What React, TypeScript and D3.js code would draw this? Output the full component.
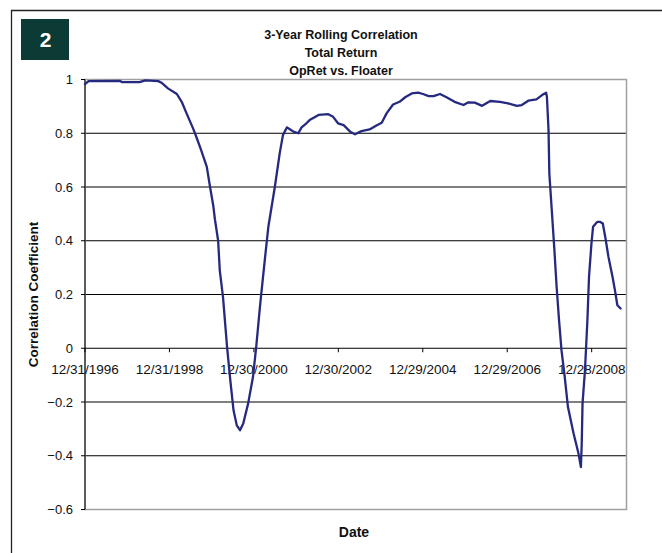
import React from "react";
import * as d3 from "d3";

const dates: string[] = [
  "1996-12-31","1997-01-31","1997-10-31","1997-11-14","1998-04-17","1998-06-05","1998-09-25","1998-10-23",
  "1998-12-18","1999-03-05","1999-04-16","1999-05-28","1999-07-23","1999-08-20","1999-10-01","1999-11-19",
  "1999-12-17","2000-01-14","2000-01-28","2000-02-25","2000-03-10","2000-04-07","2000-05-12","2000-06-09",
  "2000-07-07","2000-08-04","2000-09-01","2000-09-29","2000-11-10","2000-12-22","2001-01-19","2001-02-23",
  "2001-04-06","2001-05-04","2001-06-29","2001-08-10","2001-09-07","2001-10-12","2001-11-09","2001-12-07",
  "2002-01-18","2002-02-15","2002-03-29","2002-04-26","2002-07-12","2002-10-04","2002-11-15","2002-12-27",
  "2003-02-14","2003-04-11","2003-05-23","2003-07-18","2003-09-26","2003-11-28","2004-01-09","2004-02-20",
  "2004-04-16","2004-06-11","2004-07-30","2004-09-24","2004-11-19","2004-12-31","2005-02-18","2005-04-01",
  "2005-05-27","2005-07-22","2005-09-30","2005-12-16","2006-01-27","2006-03-24","2006-05-26","2006-08-04",
  "2006-10-27","2007-01-05","2007-03-23","2007-05-04","2007-06-29","2007-09-07","2007-10-26","2007-11-30",
  "2007-12-07","2007-12-21","2007-12-28","2008-01-18","2008-02-08","2008-02-29","2008-03-21","2008-04-11",
  "2008-05-09","2008-06-06","2008-07-25","2008-09-05","2008-09-26","2008-10-03","2008-10-10","2008-10-31",
  "2008-11-21","2008-12-05","2008-12-26","2009-01-09","2009-02-13","2009-03-13","2009-04-03","2009-04-24",
  "2009-05-22","2009-06-26","2009-07-17","2009-08-07","2009-09-04",
];

const correlation: number[] = [
  0.983,0.994,0.995,0.99,0.99,0.997,0.994,0.988,
  0.967,0.946,0.917,0.874,0.818,0.787,0.737,0.675,
  0.6,0.53,0.48,0.4,0.29,0.19,0.005,-0.119,
  -0.231,-0.287,-0.305,-0.28,-0.206,-0.107,0.005,0.166,
  0.34,0.452,0.6,0.725,0.793,0.822,0.814,0.806,
  0.8,0.822,0.837,0.849,0.868,0.871,0.861,0.837,
  0.83,0.806,0.796,0.808,0.814,0.83,0.839,0.874,
  0.907,0.917,0.934,0.948,0.951,0.946,0.938,0.938,
  0.946,0.934,0.917,0.905,0.915,0.914,0.902,0.92,
  0.917,0.911,0.902,0.905,0.921,0.926,0.942,0.951,
  0.936,0.812,0.65,0.514,0.377,0.228,0.104,-0.007,
  -0.107,-0.219,-0.318,-0.392,-0.442,-0.355,-0.206,-0.082,
  0.104,0.266,0.39,0.452,0.47,0.47,0.464,0.415,
  0.34,0.266,0.216,0.16,0.148,
];

const xTickLabels: string[] = [
  "12/31/1996","12/31/1998","12/30/2000","12/30/2002","12/29/2004","12/29/2006","12/28/2008",
];
const yTickValues: number[] = [-0.6, -0.4, -0.2, 0, 0.2, 0.4, 0.6, 0.8, 1];
const titleLines: string[] = ["3-Year Rolling Correlation", "Total Return", "OpRet vs. Floater"];
const domainStart = "1996-12-31";
const domainEnd = "2009-10-25";

const FONT = "'Liberation Sans', Arial, sans-serif";

export default function App() {
  const W = 662, H = 553;
  const left = 85, right = 626.5, top = 79.5, bottom = 509.5;
  const parseIso = d3.timeParse("%Y-%m-%d");
  const parseTick = d3.timeParse("%m/%d/%Y");
  const x = d3.scaleTime()
    .domain([parseIso(domainStart)!, parseIso(domainEnd)!])
    .range([left, right]);
  const y = d3.scaleLinear().domain([-0.6, 1]).range([bottom, top]);
  const data = dates.map((d, i) => ({ date: parseIso(d)!, v: correlation[i] }));
  const line = d3.line<{ date: Date; v: number }>()
    .x((d) => x(d.date))
    .y((d) => y(d.v));
  const fmt = (v: number) => (Math.abs(v) < 1e-9 ? "0" : d3.format("")(+v.toFixed(1)));
  const y0 = y(0);

  return (
    <svg width={W} height={H} style={{ position: "absolute", left: 0, top: 0, background: "#fff" }}>
      {/* outer frame */}
      <line x1={11} y1={10.5} x2={W} y2={10.5} stroke="#222" strokeWidth={1.3} />
      <line x1={11.5} y1={10} x2={11.5} y2={H} stroke="#222" strokeWidth={1.3} />
      {/* badge */}
      <rect x={21} y={19} width={48} height={41} fill="#0b3b34" />
      <text x={45.5} y={47} textAnchor="middle" fill="#fff" fontFamily={FONT} fontWeight="bold" fontSize={21}>2</text>
      {/* title */}
      {titleLines.map((t, i) => (
        <text key={t} x={341} y={38.5 + i * 18} textAnchor="middle" fontFamily={FONT} fontWeight="bold" fontSize={12.5} fill="#111">{t}</text>
      ))}
      {/* gridlines */}
      {yTickValues.filter((v) => v > -0.6 && v < 1 && v !== 0).map((v) => (
        <line key={v} x1={left} x2={right} y1={y(v)} y2={y(v)} stroke="#000" strokeWidth={1} />
      ))}
      {/* plot border */}
      <rect x={left} y={top} width={right - left} height={bottom - top} fill="none" stroke="#a0a0a0" strokeWidth={1.5} />
      {/* y axis */}
      <line x1={left} x2={left} y1={top} y2={bottom} stroke="#000" strokeWidth={1} />
      {yTickValues.map((v) => (
        <g key={"yt" + v}>
          <line x1={left - 4} x2={left} y1={y(v)} y2={y(v)} stroke="#000" strokeWidth={1} />
          <text x={73} y={y(v) + 4.5} textAnchor="end" fontFamily={FONT} fontSize={13} fill="#111">{fmt(v)}</text>
        </g>
      ))}
      {/* x axis at 0 */}
      <line x1={left} x2={right} y1={y0} y2={y0} stroke="#000" strokeWidth={1} />
      {xTickLabels.map((lab) => {
        const xp = x(parseTick(lab)!);
        return (
          <g key={lab}>
            <line x1={xp} x2={xp} y1={y0} y2={y0 + 4} stroke="#000" strokeWidth={1} />
            <text x={xp} y={374} textAnchor="middle" fontFamily={FONT} fontSize={13.5} fill="#111">{lab}</text>
          </g>
        );
      })}
      {/* series */}
      <path d={line(data) || ""} fill="none" stroke="#262a7f" strokeWidth={2.3} strokeLinejoin="round" strokeLinecap="round" />
      {/* axis titles */}
      <text transform={`translate(38,${(top + bottom) / 2}) rotate(-90)`} textAnchor="middle" fontFamily={FONT} fontWeight="bold" fontSize={13.5} fill="#111">Correlation Coefficient</text>
      <text x={354} y={537} textAnchor="middle" fontFamily={FONT} fontWeight="bold" fontSize={14} fill="#111">Date</text>
    </svg>
  );
}
